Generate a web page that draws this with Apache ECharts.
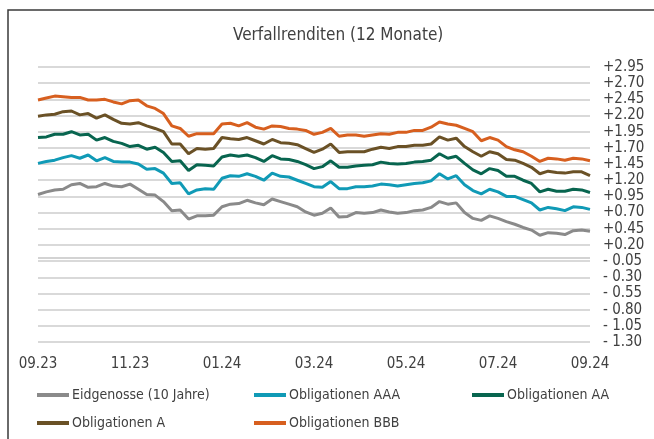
<!DOCTYPE html>
<html>
<head>
<meta charset="utf-8">
<script src="https://cdn.jsdelivr.net/npm/echarts@6/dist/echarts.min.js"></script>
<style>
  html, body { margin: 0; padding: 0; background: #fff; }
  #main-chart { width: 654px; height: 439px; }
</style>
</head>
<body>
<div id="main-chart"></div>
<script>
// Tick labels and axis range
var xLabels = ['09.23', '11.23', '01.24', '03.24', '05.24', '07.24', '09.24'];
var yMin = -1.30, yMax = 2.95, yStep = 0.25;

// Weekly readings (Sep 2023 - Sep 2024), in %
var eidgenosse = [0.98,1.02,1.05,1.06,1.13,1.15,1.09,1.10,1.15,1.11,1.10,1.14,1.06,0.98,0.97,0.87,0.73,0.74,0.60,0.65,0.65,0.66,0.79,0.83,0.84,0.89,0.85,0.82,0.91,0.87,0.83,0.79,0.71,0.66,0.69,0.77,0.63,0.64,0.70,0.69,0.70,0.74,0.71,0.69,0.70,0.73,0.74,0.78,0.87,0.83,0.85,0.70,0.61,0.58,0.65,0.61,0.56,0.52,0.47,0.43,0.35,0.39,0.38,0.36,0.42,0.43,0.41];
var oblAAA = [1.46,1.49,1.51,1.55,1.58,1.54,1.59,1.50,1.55,1.49,1.48,1.48,1.45,1.37,1.38,1.31,1.15,1.16,0.99,1.05,1.07,1.06,1.23,1.27,1.26,1.30,1.26,1.20,1.31,1.26,1.25,1.20,1.15,1.10,1.09,1.18,1.07,1.07,1.10,1.10,1.11,1.14,1.13,1.11,1.13,1.15,1.16,1.19,1.30,1.22,1.27,1.13,1.04,0.99,1.06,1.02,0.95,0.95,0.90,0.85,0.74,0.78,0.76,0.73,0.79,0.78,0.75];
var oblAA = [1.86,1.87,1.91,1.91,1.95,1.90,1.91,1.82,1.86,1.80,1.77,1.72,1.74,1.68,1.71,1.63,1.49,1.50,1.35,1.44,1.43,1.42,1.56,1.59,1.57,1.59,1.55,1.49,1.58,1.53,1.52,1.49,1.44,1.38,1.41,1.50,1.40,1.40,1.42,1.43,1.44,1.48,1.46,1.45,1.46,1.48,1.49,1.51,1.61,1.54,1.57,1.46,1.36,1.30,1.38,1.35,1.26,1.26,1.20,1.15,1.02,1.06,1.03,1.03,1.06,1.05,1.01];
var oblA = [2.19,2.21,2.22,2.26,2.27,2.21,2.23,2.16,2.21,2.14,2.08,2.07,2.09,2.04,2.00,1.95,1.76,1.76,1.61,1.69,1.68,1.69,1.86,1.84,1.83,1.86,1.81,1.76,1.83,1.78,1.77,1.75,1.69,1.63,1.68,1.76,1.63,1.64,1.64,1.64,1.68,1.71,1.69,1.72,1.72,1.74,1.74,1.76,1.87,1.82,1.85,1.72,1.64,1.57,1.64,1.61,1.52,1.51,1.46,1.40,1.30,1.34,1.32,1.31,1.33,1.33,1.27];
var oblBBB = [2.44,2.47,2.50,2.49,2.48,2.48,2.44,2.44,2.45,2.41,2.38,2.43,2.44,2.35,2.31,2.23,2.04,2.00,1.88,1.92,1.92,1.92,2.07,2.08,2.04,2.09,2.02,1.99,2.04,2.03,2.00,1.99,1.97,1.91,1.94,2.00,1.88,1.90,1.90,1.88,1.90,1.92,1.91,1.94,1.94,1.97,1.97,2.02,2.10,2.07,2.05,2.00,1.95,1.81,1.86,1.82,1.72,1.67,1.64,1.57,1.49,1.54,1.53,1.51,1.54,1.53,1.50];

var seriesNames = ['Eidgenosse (10 Jahre)', 'Obligationen AAA', 'Obligationen AA', 'Obligationen A', 'Obligationen BBB'];
var seriesColors = ['#8a8a8a', '#109ab6', '#08654f', '#6a5126', '#d75f1f'];
var seriesData = [eidgenosse, oblAAA, oblAA, oblA, oblBBB];

var font = "'Liberation Sans Narrow', 'DejaVu Sans Condensed', sans-serif";
var textColor = '#404040';

document.addEventListener('DOMContentLoaded', function () {
    var myChart = echarts.init(document.getElementById('main-chart'));

    // x position of each weekly reading, in months since 09.23
    var months = 2 * (xLabels.length - 1);
    function toPairs(arr) {
        return arr.map(function (v, i) { return [i * months / (arr.length - 1), v]; });
    }

    var legendPos = [[37, 388], [254, 388], [472, 388], [37, 416], [254, 416]];

    var option = {
        animation: false,
        title: {
            text: 'Verfallrenditen (12 Monate)',
            left: 233,
            top: 27,
            padding: 0,
            textStyle: { fontFamily: font, fontSize: 17, fontWeight: 'normal', color: textColor }
        },
        legend: seriesNames.map(function (name, i) {
            return {
                data: [name],
                left: legendPos[i][0],
                top: legendPos[i][1],
                padding: 0,
                icon: 'rect',
                itemWidth: 32,
                itemHeight: 4,
                itemGap: 0,
                textStyle: { fontFamily: font, fontSize: 14, color: textColor, padding: [0, 0, 0, -2] }
            };
        }),
        grid: { left: 38, right: 64, top: 67, bottom: 97 },
        xAxis: {
            type: 'value',
            min: 0,
            max: months,
            interval: 2,
            axisLine: { show: false },
            axisTick: { show: false },
            splitLine: { show: false },
            axisLabel: {
                margin: 15,
                fontFamily: font, fontSize: 15, color: textColor,
                formatter: function (v) { return xLabels[Math.round(v / 2)]; }
            }
        },
        yAxis: {
            type: 'value',
            position: 'right',
            min: yMin,
            max: yMax,
            interval: yStep,
            axisLine: { show: false },
            axisTick: { show: false },
            splitLine: { lineStyle: { color: '#cdcdcd', width: 1.5 } },
            axisLabel: {
                margin: 13,
                fontFamily: font, fontSize: 15, color: textColor,
                formatter: function (v) {
                    var s = Math.abs(v).toFixed(2);
                    return (v >= -0.001 ? '+' : '- ') + s;
                }
            }
        },
        series: seriesNames.map(function (name, i) {
            var s = {
                name: name,
                type: 'line',
                data: toPairs(seriesData[i]),
                showSymbol: false,
                symbol: 'none',
                lineStyle: { width: 3, color: seriesColors[i] },
                itemStyle: { color: seriesColors[i] }
            };
            if (i === 0) {
                // zero line of the category axis
                s.markLine = {
                    silent: true,
                    symbol: 'none',
                    label: { show: false },
                    lineStyle: { color: '#c4c4c4', width: 1.5, type: 'solid' },
                    data: [{ yAxis: 0 }]
                };
            }
            return s;
        }),
        graphic: [{
            type: 'rect',
            shape: { x: 8, y: 10, width: 700, height: 500 },
            style: { fill: 'none', stroke: '#3a3a3a', lineWidth: 1.5 },
            silent: true
        }]
    };

    myChart.setOption(option);
});
</script>
</body>
</html>
